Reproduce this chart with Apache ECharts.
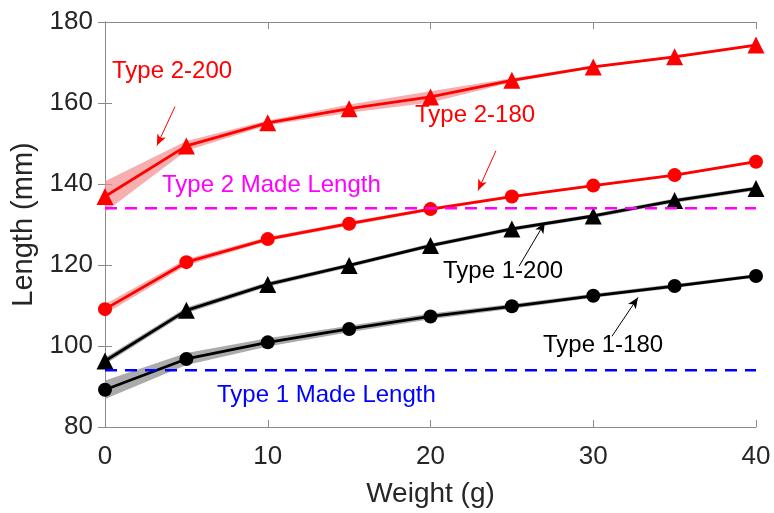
<!DOCTYPE html>
<html>
<head>
<meta charset="utf-8">
<script src="https://cdn.jsdelivr.net/npm/echarts@6/dist/echarts.min.js"></script>
<style>html,body{margin:0;padding:0;background:#fff;}#c{width:774px;height:513px;}</style>
</head>
<body>
<div id="c"></div>
<script>
// ---- data ----
const weights = [0, 5, 10, 15, 20, 25, 30, 35, 40];
const type2_200 = [136.9, 149.4, 155.1, 158.6, 161.5, 165.6, 168.9, 171.4, 174.3];
const type2_200_err = [3.8, 1.2, 0.6, 1.0, 1.4, 0.5, 0.3, 0.3, 0.3];
const type2_180 = [109.1, 120.7, 126.4, 130.2, 133.8, 136.9, 139.6, 142.2, 145.5];
const type2_180_err = [1.2, 0.8, 0.5, 0.5, 0.4, 0.3, 0.3, 0.3, 0.3];
const type1_200 = [96.3, 108.8, 115.2, 119.9, 124.8, 128.9, 132.1, 135.9, 138.9];
const type1_200_err = [0.8, 0.7, 0.6, 0.5, 0.5, 0.5, 0.5, 0.5, 0.5];
const type1_180 = [89.2, 96.8, 100.9, 104.2, 107.3, 109.8, 112.4, 114.8, 117.3];
const type1_180_err = [2.3, 1.5, 1.0, 0.8, 0.7, 0.6, 0.5, 0.5, 0.4];
const type2_made = 134;
const type1_made = 94;
const xTicks = [0, 10, 20, 30, 40];
const yTicks = [80, 100, 120, 140, 160, 180];
// annotation arrows [tail, tip] in data units
const arrows = [
  {from: [4.30, 159.1], to: [3.19, 149.5], color: '#ff0000'},
  {from: [24.02, 148.2], to: [22.92, 138.4], color: '#ff0000'},
  {from: [25.44, 119.7], to: [27.03, 130.5], color: '#000000'},
  {from: [31.15, 102.4], to: [32.75, 112.0], color: '#000000'}
];
const labels = [
  {text: 'Type 2-200', color: '#ff0000'},
  {text: 'Type 2-180', color: '#ff0000'},
  {text: 'Type 2 Made Length', color: '#ff00ff'},
  {text: 'Type 1-200', color: '#000000'},
  {text: 'Type 1-180', color: '#000000'},
  {text: 'Type 1 Made Length', color: '#0000ff'}
];
const labelPos = [[112, 72], [415, 116], [162, 186], [443, 272], [543, 346], [217, 396]];

const FONT = 'Liberation Sans, Arial, sans-serif';
const chart = echarts.init(document.getElementById('c'), null, {renderer: 'canvas'});

function band(mean, err, fill) {
  return {
    type: 'custom', silent: true, z: 1, clip: true,
    data: [[weights[0], mean[0]]],
    renderItem: function (params, api) {
      const up = weights.map((w, i) => api.coord([w, mean[i] + err[i]]));
      const lo = weights.map((w, i) => api.coord([w, mean[i] - err[i]])).reverse();
      return {type: 'polygon', shape: {points: up.concat(lo)}, style: {fill: fill}};
    }
  };
}
function line(mean, color, symbol, size) {
  return {
    type: 'line', z: 3, data: weights.map((w, i) => [w, mean[i]]),
    symbol: symbol, symbolSize: size, showSymbol: true,
    lineStyle: {color: color, width: 2.8}, itemStyle: {color: color, borderWidth: 0},
    emphasis: {disabled: true}, animation: false
  };
}
function hline(v, color) {
  return {
    type: 'line', z: 5, data: [[0, v], [40, v]], symbol: 'none',
    lineStyle: {color: color, width: 2.5, type: [12, 8]}, animation: false
  };
}

const axisLineStyle = {color: '#8a8a8a', width: 1};
const option = {
  backgroundColor: '#ffffff',
  animation: false,
  grid: {left: 105, right: 18, top: 22, bottom: 85, containLabel: false},
  xAxis: [
    {type: 'value', min: xTicks[0], max: xTicks[xTicks.length - 1], interval: 10, position: 'bottom',
     axisLine: {show: true, lineStyle: axisLineStyle},
     axisTick: {show: true, inside: true, length: 7, lineStyle: axisLineStyle},
     splitLine: {show: false},
     axisLabel: {fontSize: 26, color: '#262626', fontFamily: FONT, margin: 17},
     name: 'Weight (g)', nameLocation: 'middle', nameGap: 53,
     nameTextStyle: {fontSize: 28, color: '#262626', fontFamily: FONT}},
    {type: 'value', min: 0, max: 40, interval: 10, position: 'top',
     axisLine: {show: true, lineStyle: axisLineStyle},
     axisTick: {show: true, inside: true, length: 7, lineStyle: axisLineStyle},
     splitLine: {show: false}, axisLabel: {show: false}}
  ],
  yAxis: [
    {type: 'value', min: yTicks[0], max: yTicks[yTicks.length - 1], interval: 20, position: 'left',
     axisLine: {show: true, lineStyle: axisLineStyle},
     axisTick: {show: true, inside: true, length: 7, lineStyle: axisLineStyle},
     splitLine: {show: false},
     axisLabel: {fontSize: 26, color: '#262626', fontFamily: FONT, margin: 12},
     name: 'Length (mm)', nameLocation: 'middle', nameGap: 62,
     nameTextStyle: {fontSize: 29, color: '#262626', fontFamily: FONT}},
    {type: 'value', min: 80, max: 180, interval: 20, position: 'right',
     axisLine: {show: true, lineStyle: axisLineStyle},
     axisTick: {show: true, inside: true, length: 7, lineStyle: axisLineStyle},
     splitLine: {show: false}, axisLabel: {show: false}}
  ],
  series: [
    band(type2_200, type2_200_err, 'rgba(242,140,140,0.7)'),
    band(type2_180, type2_180_err, 'rgba(242,140,140,0.7)'),
    band(type1_200, type1_200_err, 'rgba(150,150,150,0.8)'),
    band(type1_180, type1_180_err, 'rgba(150,150,150,0.8)'),
    line(type2_200, '#ff0000', 'triangle', 17),
    line(type2_180, '#ff0000', 'circle', 14),
    line(type1_200, '#000000', 'triangle', 17),
    line(type1_180, '#000000', 'circle', 14),
    hline(type2_made, '#ff00ff'),
    hline(type1_made, '#0000ff'),
    {
      type: 'line', data: [], z: 6,
      markLine: {
        silent: true, animation: false, symbol: ['none', 'arrow'], symbolSize: [7, 11],
        label: {show: false},
        data: arrows.map(a => [
          {coord: a.from, lineStyle: {color: a.color, width: 1, type: 'solid'}, itemStyle: {color: a.color}},
          {coord: a.to}
        ])
      }
    }
  ],
  graphic: labels.map((l, i) => ({
    type: 'text', left: labelPos[i][0], top: labelPos[i][1] - 13, z: 10,
    style: {text: l.text, fill: l.color, font: '24px ' + FONT}
  }))
};
chart.setOption(option);
</script>
</body>
</html>
